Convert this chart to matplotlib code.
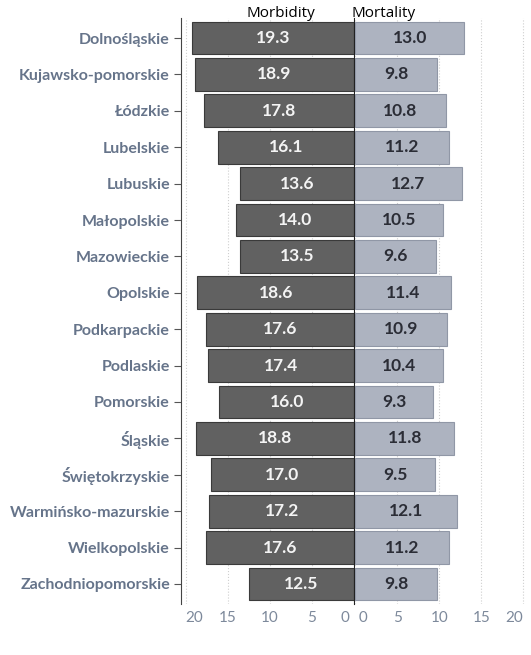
import matplotlib.pyplot as plt

regions = ['Dolnośląskie', 'Kujawsko-pomorskie', 'Łódzkie', 'Lubelskie', 'Lubuskie',
           'Małopolskie', 'Mazowieckie', 'Opolskie', 'Podkarpackie', 'Podlaskie',
           'Pomorskie', 'Śląskie', 'Świętokrzyskie', 'Warmińsko-mazurskie',
           'Wielkopolskie', 'Zachodniopomorskie']
morbidity = [19.3, 18.9, 17.8, 16.1, 13.6, 14.0, 13.5, 18.6, 17.6, 17.4, 16.0, 18.8, 17.0, 17.2, 17.6, 12.5]
mortality = [13.0, 9.8, 10.8, 11.2, 12.7, 10.5, 9.6, 11.4, 10.9, 10.4, 9.3, 11.8, 9.5, 12.1, 11.2, 9.8]
ticks = [0, 5, 10, 15, 20]
tick_labels = ['0', '5', '10', '15', '20']

label_color = '#66748a'
grid_color = '#cfcfcf'

fig = plt.figure(figsize=(5.31, 6.55), dpi=100)
ax_l = fig.add_axes([0.3409, 0.0779, 0.3258, 0.8946])
ax_r = fig.add_axes([0.6685, 0.0779, 0.3258, 0.8946])

y = list(range(len(regions)))

# left side: morbidity, bars pointing left
ax_l.barh(y, morbidity, height=0.9, color='#616161', edgecolor='#3a3a3a', linewidth=0.8, zorder=2)
for yi, v in zip(y, morbidity):
    ax_l.text(v / 2, yi, f'{v:.1f}', ha='center', va='center', color='#f4f4f4',
              fontsize=12.5, fontweight='bold', family='Lato', zorder=3)
ax_l.set_xlim(20.55, 0)

# right side: mortality
ax_r.barh(y, mortality, height=0.9, color='#adb3c0', edgecolor='#9097a6', linewidth=0.8, zorder=2)
for yi, v in zip(y, mortality):
    ax_r.text(v / 2, yi, f'{v:.1f}', ha='center', va='center', color='#2b2d36',
              fontsize=12.5, fontweight='bold', family='Lato', zorder=3)
ax_r.set_xlim(0, 20.55)

for ax in (ax_l, ax_r):
    ax.set_ylim(len(regions) - 0.45, -0.55)
    ax.set_xticks(ticks)
    ax.tick_params(axis='x', length=0, pad=5, labelsize=11, labelcolor='#7d899b')
    ax.grid(axis='x', color=grid_color, linestyle=':', linewidth=0.8, zorder=0)
    ax.set_axisbelow(True)
    for s in ax.spines.values():
        s.set_visible(False)

# edge tick labels are pulled inward like in the original
ax_l.set_xticklabels([t + ' ' if t == '0' else t for t in tick_labels], family='Lato')
ax_r.set_xticklabels([' ' + t if t == '0' else t for t in tick_labels], family='Lato')
lbl_l = ax_l.get_xticklabels()
lbl_l[0].set_ha('right')
lbl_l[-1].set_ha('left')
lbl_r = ax_r.get_xticklabels()
lbl_r[0].set_ha('left')
lbl_r[-1].set_ha('right')

ax_l.set_yticks(y)
ax_l.set_yticklabels(regions, fontsize=11.5, fontweight='bold', family='Lato', color=label_color)
ax_l.tick_params(axis='y', length=5, color='#555555', pad=3)
ax_l.spines['left'].set_visible(True)
ax_l.spines['left'].set_color('#444444')
ax_l.spines['right'].set_visible(True)
ax_l.spines['right'].set_color('#222222')
ax_r.set_yticks([])

fig.text(0.5283, 0.979, 'Morbidity', ha='center', va='center', fontsize=11, family='Open Sans')
fig.text(0.6629, 0.979, 'Mortality', ha='left', va='center', fontsize=11, family='Open Sans')

fig.savefig('out.png', dpi=100)
